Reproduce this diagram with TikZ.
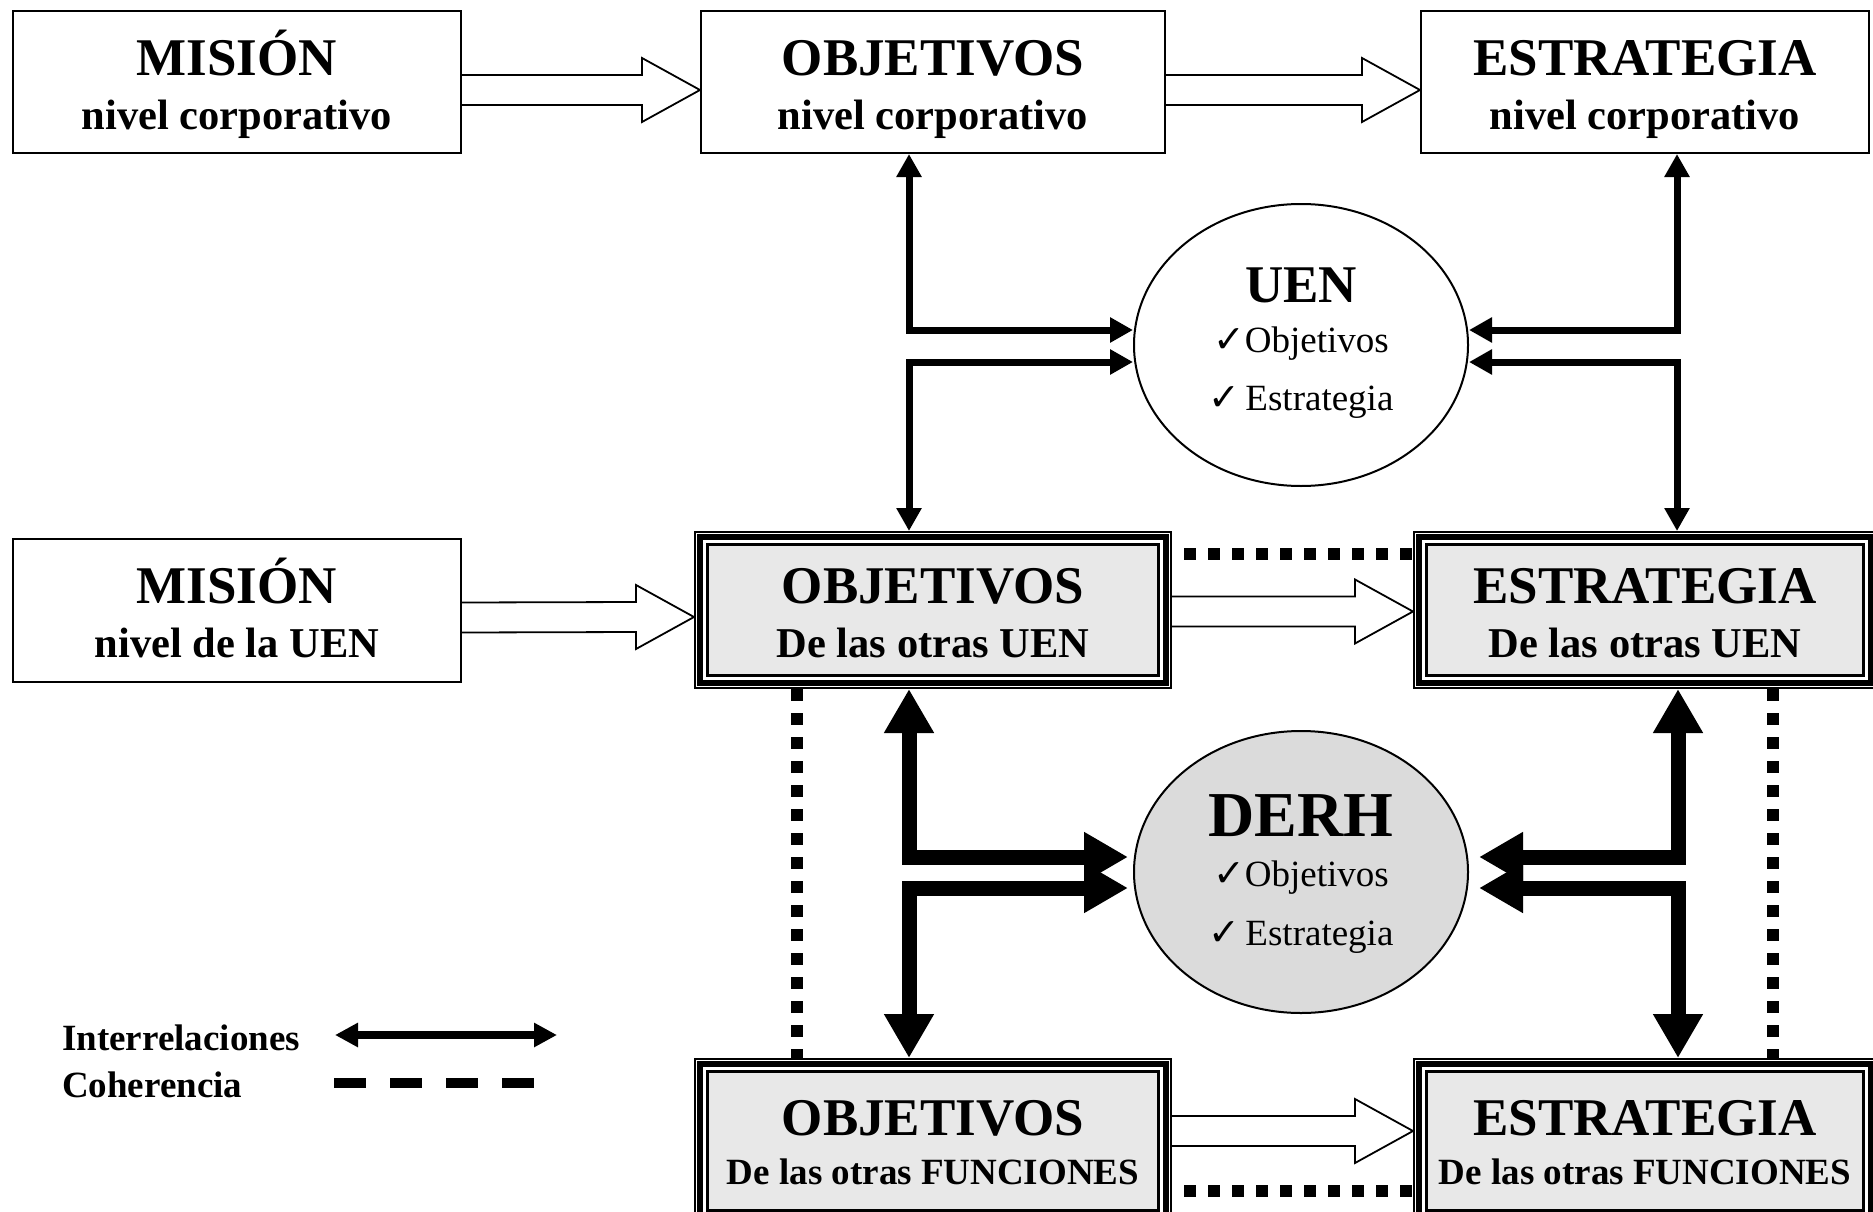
\documentclass[tikz,border=0pt]{standalone}
\usepackage{fontspec}
\setmainfont{Liberation Serif}
\newfontfamily\symfont{DejaVu Sans}
\usetikzlibrary{calc,arrows.meta,shapes.geometric}

\definecolor{boxgray}{gray}{0.91}
\definecolor{derhgray}{gray}{0.86}

\newcommand{\chk}{{\symfont\fontsize{38}{38}\selectfont ✓}}
\newcommand{\subline}[1]{{\fontsize{42.5}{54}\selectfont #1}}
\newcommand{\funline}[1]{{\fontsize{37}{49}\selectfont #1}}
% open arrow between two boxes, #3 = shift below the centre line
\newcommand{\hollowarrow}[3]{%
  \draw[hollow] ($(#1.east)+(0,#3-15)$) -- ($(#2.west)+(-58,#3-15)$)
    -- ($(#2.west)+(-58,#3-32)$) -- ($(#2.west)+(0,#3)$)
    -- ($(#2.west)+(-58,#3+32)$) -- ($(#2.west)+(-58,#3+15)$)
    -- ($(#1.east)+(0,#3+15)$);}

\tikzset{
  plainbox/.style={rectangle, draw, line width=2pt, inner sep=0pt, align=center,
    font=\bfseries\fontsize{53}{54}\selectfont, text height=100pt, text depth=6pt},
  tribox/.style={rectangle, draw, fill=boxgray, line width=2.3pt, inner sep=0pt,
    outer sep=13.5pt, align=center,
    font=\bfseries\fontsize{53}{54}\selectfont, text height=100pt, text depth=6pt,
    preaction={draw, line width=27pt},
    preaction={draw=white, line width=23.6pt},
    preaction={draw, line width=20.2pt},
    preaction={draw=white, line width=8.8pt}},
  funbox/.style={tribox, font=\bfseries\fontsize{53}{49}\selectfont,
    text height=89pt, text depth=2pt},
  unit/.style={ellipse, draw, line width=2pt, inner sep=0pt, align=center,
    minimum width=334pt, minimum height=282pt,
    font=\fontsize{37}{50}\selectfont},
  hollow/.style={line width=1.8pt},
  link/.style={line width=7pt, >={Triangle[length=23pt,width=24pt]}, <->},
  biglink/.style={line width=15pt, >={Triangle[length=44pt,width=47pt]}, <->},
  coherence/.style={line width=12pt, dash pattern=on 12pt off 12pt},
  legend/.style={inner sep=0pt, anchor=west, font=\bfseries\fontsize{37}{40}\selectfont}
}

\begin{document}
\begin{tikzpicture}[x=1pt,y=-1pt]
\useasboundingbox (0,0) rectangle (1873,1212);

% corporate level
\node[plainbox, minimum width=448pt, minimum height=142pt] (mcorp) at (237,82)
  {MISIÓN\\\subline{nivel corporativo}};
\node[plainbox, minimum width=464pt, minimum height=142pt] (ocorp) at (933,82)
  {OBJETIVOS\\\subline{nivel corporativo}};
\node[plainbox, minimum width=448pt, minimum height=142pt] (ecorp) at (1645,82)
  {ESTRATEGIA\\\subline{nivel corporativo}};

% UEN level
\node[plainbox, minimum width=448pt, minimum height=143pt] (muen) at (237,610.5)
  {MISIÓN\\\subline{nivel de la UEN}};
\node[tribox, minimum width=451pt, minimum height=131pt] (ouen) at (933,610)
  {OBJETIVOS\\\subline{De las otras UEN}};
\node[tribox, minimum width=437pt, minimum height=131pt] (euen) at (1645,610)
  {ESTRATEGIA\\\subline{De las otras UEN}};

% functions
\node[funbox, minimum width=451pt, minimum height=139pt] (ofun) at (933,1141)
  {OBJETIVOS\\\funline{De las otras FUNCIONES}};
\node[funbox, minimum width=437pt, minimum height=139pt] (efun) at (1645,1141)
  {ESTRATEGIA\\\funline{De las otras FUNCIONES}};

% ellipses
\node[unit, text height=135pt, text depth=5pt] (uen) at (1301,345)
  {{\bfseries\fontsize{53}{50}\selectfont UEN}\\\chk Objetivos\\[8pt]\chk\hspace{5pt}Estrategia};
\node[unit, fill=derhgray, text height=150pt, text depth=4pt] (derh) at (1301,872)
  {{\bfseries\fontsize{64}{50}\selectfont DERH}\\\chk Objetivos\\[9pt]\chk\hspace{5pt}Estrategia};

% open arrows
\hollowarrow{mcorp}{ocorp}{8}
\hollowarrow{ocorp}{ecorp}{8}
\hollowarrow{muen}{ouen}{7}
\hollowarrow{ouen}{euen}{1.5}
\hollowarrow{ofun}{efun}{-10}

% interrelations with UEN
\draw[link] ($(ocorp.south)+(-24,0)$) |- ($(uen.west)+(0,-15)$);
\draw[link] ($(ouen.north)+(-24,0)$) |- ($(uen.west)+(0,17)$);
\draw[link] ($(ecorp.south)+(32,0)$) |- ($(uen.east)+(0,-15)$);
\draw[link] ($(euen.north)+(32,0)$) |- ($(uen.east)+(0,17)$);

% interrelations with DERH
\draw[biglink] ($(ouen.south)+(-24,0)$) |- ($(derh.west)+(-5,-15)$);
\draw[biglink] ($(ofun.north)+(-24,0)$) |- ($(derh.west)+(-5,16)$);
\draw[biglink] ($(euen.south)+(33,0)$) |- ($(derh.east)+(10,-15)$);
\draw[biglink] ($(efun.north)+(33,0)$) |- ($(derh.east)+(10,16)$);

% coherence
\draw[coherence, dash phase=12pt] ($(ouen.east)+(0,-56)$) -- ($(euen.west)+(0,-56)$);
\draw[coherence, dash phase=12pt] ($(ofun.east)+(0,50)$) -- ($(efun.west)+(0,50)$);
\draw[coherence] ($(ouen.south)+(-136,0)$) -- ($(ofun.north)+(-136,0)$);
\draw[coherence] ($(euen.south)+(128,0)$) -- ($(efun.north)+(128,0)$);

% legend
\node[legend] (linter) at (62,1038) {Interrelaciones};
\node[legend] (lcoher) at (62,1085) {Coherencia};
\coordinate (la) at (335,1035);
\coordinate (lb) at (557,1035);
\coordinate (lc) at (334,1083);
\coordinate (ld) at (534,1083);
\draw[line width=8pt, >={Triangle[length=23pt,width=23pt]}, <->] (la) -- (lb);
\draw[line width=10pt, dash pattern=on 32pt off 24pt] (lc) -- (ld);
\end{tikzpicture}
\end{document}
